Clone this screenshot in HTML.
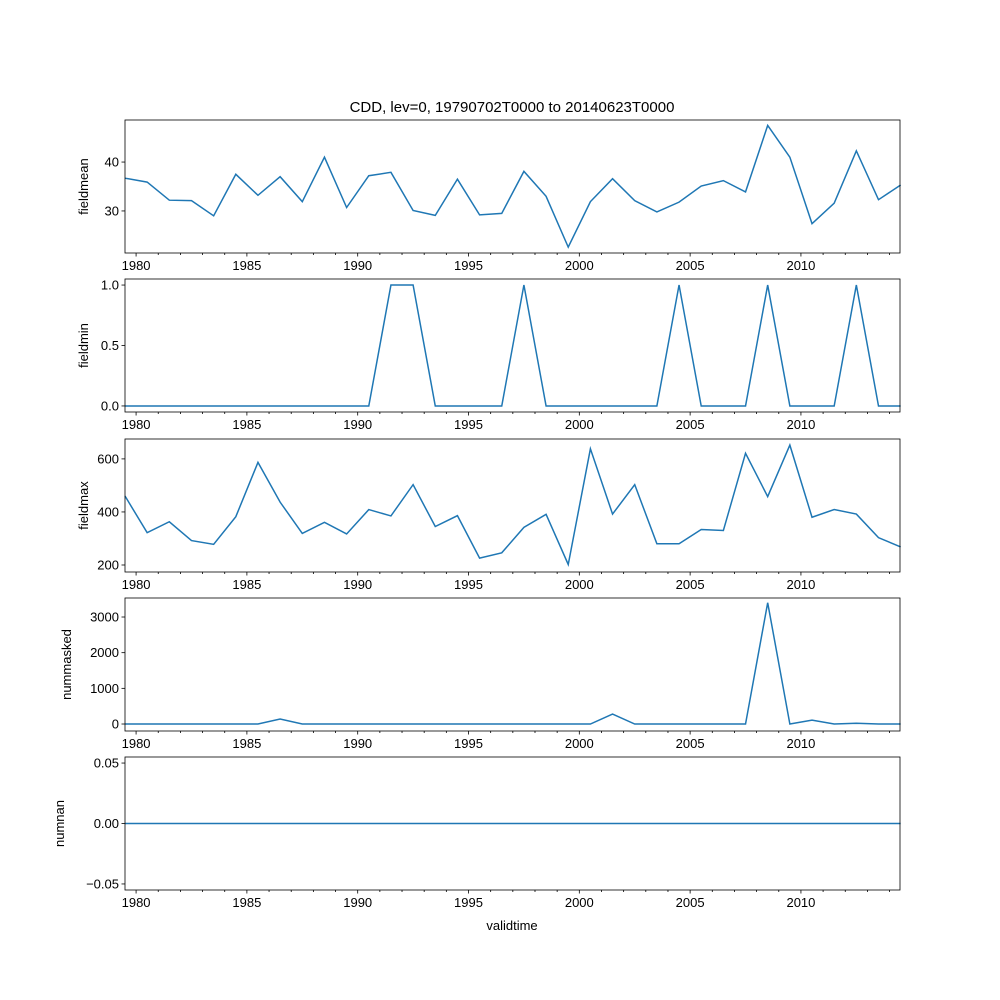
<!DOCTYPE html>
<html><head><meta charset="utf-8"><style>body{margin:0;background:#fff}svg{display:block}</style></head>
<body>
<svg id="c" width="1000" height="1000" font-family="Liberation Sans, DejaVu Sans, sans-serif">
<text x="512" y="112" text-anchor="middle" font-size="15">CDD, lev=0, 19790702T0000 to 20140623T0000</text>
<text x="512" y="930" text-anchor="middle" font-size="13">validtime</text>
</svg>
<script>
const years = [1979,1980,1981,1982,1983,1984,1985,1986,1987,1988,1989,1990,1991,1992,1993,1994,1995,1996,1997,1998,1999,2000,2001,2002,2003,2004,2005,2006,2007,2008,2009,2010,2011,2012,2013,2014];
const fieldmean = [36.7,35.9,32.2,32.1,29.0,37.5,33.2,37.0,31.9,41.0,30.7,37.2,37.9,30.1,29.1,36.5,29.2,29.5,38.1,33.0,22.6,31.9,36.6,32.1,29.8,31.8,35.1,36.2,33.9,47.5,41.0,27.4,31.6,42.3,32.3,35.3];
const fieldmin = [0,0,0,0,0,0,0,0,0,0,0,0,1,1,0,0,0,0,1,0,0,0,0,0,0,1,0,0,0,1,0,0,0,1,0,0];
const fieldmax = [460,322,363,292,278,382,587,437,319,361,317,409,385,503,345,386,226,246,342,391,202,638,392,503,280,280,334,330,621,458,652,380,409,392,303,268];
const nummasked = [0,0,0,0,0,0,0,140,0,0,0,0,0,0,0,0,0,0,0,0,0,0,280,0,0,0,0,0,0,3400,0,110,0,20,0,0];
const numnan = [0,0,0,0,0,0,0,0,0,0,0,0,0,0,0,0,0,0,0,0,0,0,0,0,0,0,0,0,0,0,0,0,0,0,0,0];
const xTicks = [1980,1985,1990,1995,2000,2005,2010];
const panels = [
 {name:'fieldmean',data:fieldmean,top:120,lo:21.4,hi:48.6,ticks:[30,40],labels:['30','40']},
 {name:'fieldmin',data:fieldmin,top:279,lo:-0.05,hi:1.05,ticks:[0,0.5,1],labels:['0.0','0.5','1.0']},
 {name:'fieldmax',data:fieldmax,top:439,lo:173.6,hi:675,ticks:[200,400,600],labels:['200','400','600']},
 {name:'nummasked',data:nummasked,top:598,lo:-196,hi:3533,ticks:[0,1000,2000,3000],labels:['0','1000','2000','3000']},
 {name:'numnan',data:numnan,top:757,lo:-0.055,hi:0.055,ticks:[-0.05,0,0.05],labels:['\u22120.05','0.00','0.05']}
];
const NS='http://www.w3.org/2000/svg', svg=document.getElementById('c');
const L=125,R=900,H=133;
const xs=v=>L+(v-1979.5)/(2014.47-1979.5)*(R-L);
function mk(t,a,p){const e=document.createElementNS(NS,t);for(const k in a)e.setAttribute(k,a[k]);(p||svg).appendChild(e);return e;}
panels.forEach(p=>{
 const g=mk('g',{});
 
 
 const ys=v=>p.top+H-(v-p.lo)/(p.hi-p.lo)*H;
 const pts=years.map((y,i)=>xs(y+0.5).toFixed(2)+','+ys(p.data[i]).toFixed(2)).join(' ');
 const line=mk('polyline',{points:pts,fill:'none',stroke:'#1f77b4','stroke-width':1.5,'clip-path':''},g);
 
 
 mk('rect',{x:L,y:p.top,width:R-L,height:H,fill:'none',stroke:'#000','stroke-width':0.8},g);
 p.ticks.forEach((t,i)=>{const y=ys(t);mk('line',{x1:L-3.5,x2:L,y1:y,y2:y,stroke:'#000','stroke-width':0.8},g);
  const tx=mk('text',{x:L-6,y:y+4.5,'text-anchor':'end','font-size':13},g);tx.textContent=p.labels[i];
  
  });
 for(let y=1980;y<=2014;y++){const x=xs(y);const maj=xTicks.includes(y);
  mk('line',{x1:x,x2:x,y1:p.top+H,y2:p.top+H+(maj?3.5:2),stroke:'#000','stroke-width':0.8},g);}
 xTicks.forEach(t=>{const tx=mk('text',{x:xs(t),y:p.top+H+17,'text-anchor':'middle','font-size':13},g);tx.textContent=t;
  
  });
 const cy=p.top+H/2;
 const yl=mk('text',{x:0,y:0,'text-anchor':'middle','font-size':13,transform:`translate(${p.name==='numnan'?64:p.name==='nummasked'?71:88},${cy}) rotate(-90)`},g);
 yl.textContent=p.name;
 
 
});
</script>
</body></html>
